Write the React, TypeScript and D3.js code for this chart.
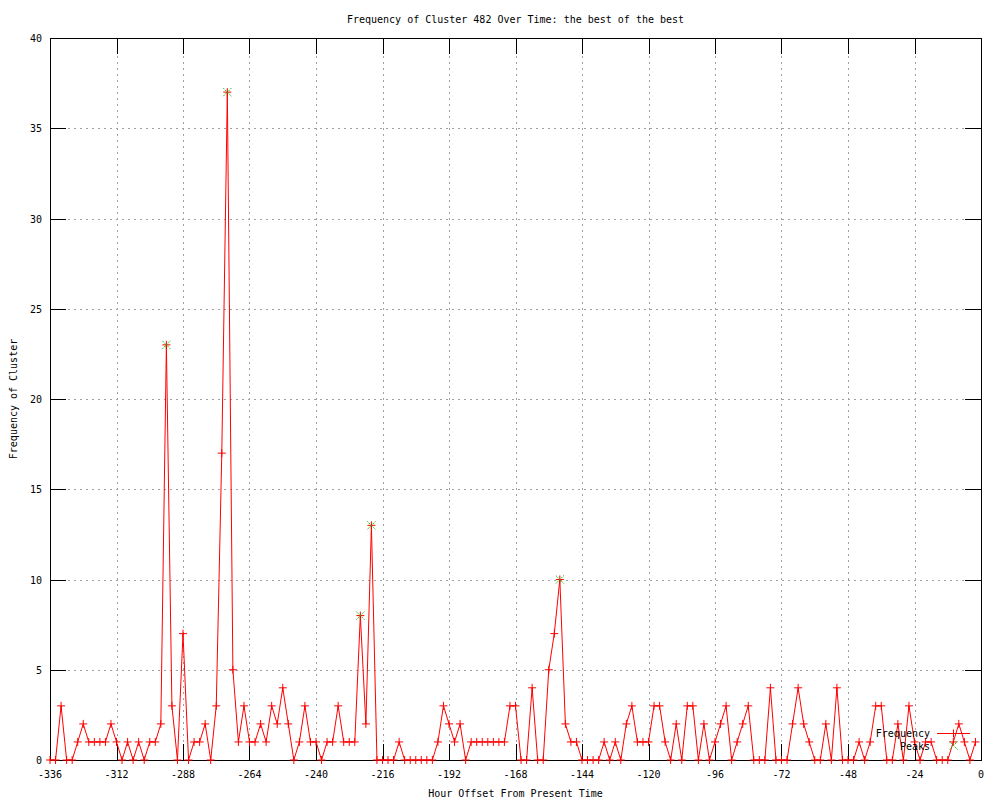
import React from "react";
import * as d3 from "d3";

const startHour = -336;
const stepHours = 2;
const frequency: number[] = [
  0, 0, 3, 0, 0, 1, 2, 1, 1, 1, 1, 2, 1, 0, 1, 0, 1, 0, 1, 1,
  2, 23, 3, 0, 7, 0, 1, 1, 2, 0, 3, 17, 37, 5, 1, 3, 1, 1, 2, 1,
  3, 2, 4, 2, 0, 1, 3, 1, 1, 0, 1, 1, 3, 1, 1, 1, 8, 2, 13, 0,
  0, 0, 0, 1, 0, 0, 0, 0, 0, 0, 1, 3, 2, 1, 2, 0, 1, 1, 1, 1,
  1, 1, 1, 3, 3, 0, 0, 4, 0, 0, 5, 7, 10, 2, 1, 1, 0, 0, 0, 0,
  1, 0, 1, 0, 2, 3, 1, 1, 1, 3, 3, 1, 0, 2, 0, 3, 3, 0, 2, 0,
  1, 2, 3, 0, 1, 2, 3, 0, 0, 0, 4, 0, 0, 0, 2, 4, 2, 1, 0, 0,
  2, 0, 4, 0, 0, 0, 1, 0, 1, 3, 3, 0, 0, 2, 0, 3, 1, 0, 1, 1,
  0, 0, 0, 1, 2, 1, 0, 1,
];
const peakHours: number[] = [-294, -272, -224, -220, -152];
const xTicks: number[] = [-336, -312, -288, -264, -240, -216, -192, -168, -144, -120, -96, -72, -48, -24, 0];
const yTicks: number[] = [0, 5, 10, 15, 20, 25, 30, 35, 40];

const titleText = "Frequency of Cluster 482 Over Time: the best of the best";
const xLabel = "Hour Offset From Present Time";
const yLabel = "Frequency of Cluster";

const W = 1000;
const H = 800;
const left = 50;
const right = 981;
const top = 38;
const bottom = 760;
const FONT = "'DejaVu Sans Mono', monospace";
const RED = "#ff0000";
const GREEN = "#00c000";

export default function App() {
  const x = d3.scaleLinear().domain([-336, 0]).range([left, right]);
  const y = d3.scaleLinear().domain([0, 40]).range([bottom, top]);
  const pts = frequency.map((v, i) => ({ h: startHour + i * stepHours, v }));
  const line = d3
    .line<{ h: number; v: number }>()
    .x((d) => x(d.h))
    .y((d) => y(d.v));
  const peaks = peakHours.map((h) => {
    const p = pts.find((q) => q.h === h);
    return { h, v: p ? p.v : 0 };
  });
  const plus = (cx: number, cy: number, key: string | number, color: string) => (
    <g key={key} stroke={color} strokeWidth={1}>
      <line x1={cx - 4} x2={cx + 4} y1={cy} y2={cy} />
      <line x1={cx} x2={cx} y1={cy - 4} y2={cy + 4} />
    </g>
  );
  const cross = (cx: number, cy: number, key: string | number) => (
    <g key={key} stroke={GREEN} strokeWidth={1} strokeDasharray="1.5,1">
      <line x1={cx - 4} x2={cx + 4} y1={cy - 4} y2={cy + 4} />
      <line x1={cx - 4} x2={cx + 4} y1={cy + 4} y2={cy - 4} />
    </g>
  );
  const tickLen = 16;
  return (
    <svg
      width={W}
      height={H}
      style={{ position: "absolute", left: 0, top: 0, background: "#fff" }}
      fontFamily={FONT}
      fontSize={10}
    >
      <rect x={0} y={0} width={W} height={H} fill="#fff" />
      {/* grid */}
      <g stroke="#a0a0a0" strokeWidth={1} strokeDasharray="2,4" shapeRendering="crispEdges">
        {yTicks
          .filter((t) => t > 0 && t < 40)
          .map((t) => (
            <line key={"gy" + t} x1={left} x2={right} y1={Math.round(y(t)) + 0.5} y2={Math.round(y(t)) + 0.5} />
          ))}
        {xTicks
          .filter((t) => t > -336 && t < 0)
          .map((t) => (
            <line key={"gx" + t} x1={Math.round(x(t)) + 0.5} x2={Math.round(x(t)) + 0.5} y1={top} y2={bottom} />
          ))}
      </g>
      {/* ticks */}
      <g stroke="#000" strokeWidth={1} shapeRendering="crispEdges">
        {yTicks.map((t) => {
          const yy = Math.round(y(t)) + 0.5;
          return (
            <g key={"ty" + t}>
              <line x1={left} x2={left + tickLen} y1={yy} y2={yy} />
              <line x1={right} x2={right - tickLen} y1={yy} y2={yy} />
            </g>
          );
        })}
        {xTicks.map((t) => {
          const xx = Math.round(x(t)) + 0.5;
          return (
            <g key={"tx" + t}>
              <line x1={xx} x2={xx} y1={bottom} y2={bottom - tickLen} />
              <line x1={xx} x2={xx} y1={top} y2={top + tickLen} />
            </g>
          );
        })}
        <rect x={left + 0.5} y={top + 0.5} width={right - left} height={bottom - top} fill="none" />
      </g>
      {/* tick labels */}
      <g fill="#000">
        {yTicks.map((t) => (
          <text key={"ly" + t} x={42} y={y(t) + 4} textAnchor="end">
            {t}
          </text>
        ))}
        {xTicks.map((t) => (
          <text key={"lx" + t} x={x(t)} y={778} textAnchor="middle">
            {t}
          </text>
        ))}
        <text x={(left + right) / 2} y={23} textAnchor="middle">
          {titleText}
        </text>
        <text x={(left + right) / 2} y={797} textAnchor="middle">
          {xLabel}
        </text>
        <text transform={`translate(17,${(top + bottom) / 2}) rotate(-90)`} textAnchor="middle">
          {yLabel}
        </text>
      </g>
      {/* data */}
      <path d={line(pts) || ""} fill="none" stroke={RED} strokeWidth={1} />
      {pts.map((p, i) => plus(x(p.h), y(p.v), "p" + i, RED))}
      {peaks.map((p, i) => cross(x(p.h), y(p.v), "k" + i))}
      {/* legend */}
      <g fill="#000">
        <text x={930} y={737} textAnchor="end">Frequency</text>
        <line x1={937} x2={970} y1={733.5} y2={733.5} stroke={RED} strokeWidth={1} />
        {plus(953.5, 733.5, "legp", RED)}
        <text x={930} y={750} textAnchor="end">Peaks</text>
        {cross(953.5, 745.5, "legk")}
      </g>
    </svg>
  );
}
